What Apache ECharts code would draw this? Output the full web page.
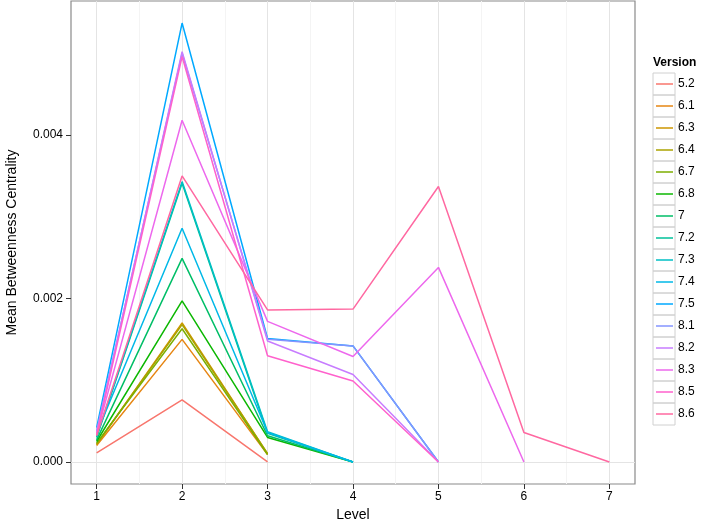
<!DOCTYPE html>
<html>
<head>
<meta charset="utf-8">
<script src="https://cdn.jsdelivr.net/npm/echarts@6/dist/echarts.min.js"></script>
<style>
  html, body { margin: 0; padding: 0; background: #fff; }
  #chart { width: 704px; height: 524px; }
</style>
</head>
<body>
<div id="chart"></div>
<script>
// levels on the x axis
const levels = [1, 2, 3, 4, 5, 6, 7];
const versions = ['5.2', '6.1', '6.3', '6.4', '6.7', '6.8', '7', '7.2', '7.3', '7.4', '7.5', '8.1', '8.2', '8.3', '8.5', '8.6'];
const colors = ['#F8766D', '#E68613', '#CD9600', '#ABA300', '#7CAE00', '#0CB702', '#00BE67', '#00C19A',
  '#00BFC4', '#00B8E7', '#00A9FF', '#8494FF', '#C77CFF', '#ED68ED', '#FF61CC', '#FF68A1'];

// mean betweenness centrality per version, one value per level
const v52 = [0.00011, 0.00076, 0];
const v61 = [0.00020, 0.00150, 0.00009];
const v63 = [0.00021, 0.00170, 0.00010];
const v64 = [0.00022, 0.00168, 0.00010];
const v67 = [0.00023, 0.00163, 0.00009];
const v68 = [0.00025, 0.00197, 0.00030, 0];
const v7 = [0.00027, 0.00249, 0.00032, 0];
const v72 = [0.00030, 0.00341, 0.00035, 0];
const v73 = [0.00031, 0.00343, 0.00037, 0];
const v74 = [0.00035, 0.00286, 0.00036, 0];
const v75 = [0.00042, 0.00537, 0.00151, 0.00142, 0];
const v81 = [0.00038, 0.00500, 0.00150, 0.00142, 0];
const v82 = [0.00036, 0.00502, 0.00148, 0.00107, 0];
const v83 = [0.00034, 0.00418, 0.00172, 0.00129, 0.00238, 0];
const v85 = [0.00033, 0.00496, 0.00130, 0.00099, 0];
const v86 = [0.00032, 0.00350, 0.00186, 0.00187, 0.00337, 0.00036, 0];
const values = [v52, v61, v63, v64, v67, v68, v7, v72, v73, v74, v75, v81, v82, v83, v85, v86];

const yTicks = [0, 0.002, 0.004];
const yMinor = [0.001, 0.003, 0.005];
const xMinor = [1.5, 2.5, 3.5, 4.5, 5.5, 6.5];

const chart = echarts.init(document.getElementById('chart'));

const font = 'Liberation Sans, Arial, sans-serif';

// grid lines drawn on the axes' own scales, kept under the data lines
const gridSeries = {
  type: 'line',
  data: [],
  silent: true,
  z: 0,
  markLine: {
    silent: true,
    z: 0,
    symbol: 'none',
    label: { show: false },
    animation: false,
    data: [
      ...xMinor.map(x => ({ xAxis: x, lineStyle: { color: '#f4f4f4', width: 1, type: 'solid' } })),
      ...yMinor.map(y => ({ yAxis: y, lineStyle: { color: '#f4f4f4', width: 1, type: 'solid' } })),
      ...levels.map(x => ({ xAxis: x, lineStyle: { color: '#e4e4e4', width: 1, type: 'solid' } })),
      ...yTicks.map(y => ({ yAxis: y, lineStyle: { color: '#e4e4e4', width: 1, type: 'solid' } }))
    ]
  }
};

const lineSeries = versions.map((v, i) => ({
  name: v,
  type: 'line',
  symbol: 'none',
  z: 2,
  animation: false,
  lineStyle: { color: colors[i], width: 1.5 },
  itemStyle: { color: colors[i] },
  data: values[i].map((val, j) => [levels[j], val])
}));

const legendTop = 73;
const keySize = 22;

chart.setOption({
  backgroundColor: '#fff',
  grid: {
    left: 71, right: 69, top: 1, bottom: 40,
    outerBoundsMode: 'none',
    show: true, borderColor: '#8a8a8a', borderWidth: 1.2, backgroundColor: '#fff', z: 0
  },
  xAxis: {
    type: 'value',
    min: 0.7, max: 7.3,
    name: 'Level',
    nameLocation: 'middle',
    nameGap: 23,
    nameTextStyle: { fontFamily: font, fontSize: 14, color: '#000' },
    axisLine: { show: false, onZero: false },
    splitLine: { show: false },
    axisTick: { show: true, customValues: levels, length: 5, lineStyle: { color: '#333' } },
    axisLabel: { customValues: levels, margin: 7, fontFamily: font, fontSize: 12, color: '#000' }
  },
  yAxis: {
    type: 'value',
    min: -0.00027, max: 0.00564,
    name: 'Mean Betweenness Centrality',
    nameLocation: 'middle',
    nameGap: 52,
    nameTextStyle: { fontFamily: font, fontSize: 14, color: '#000' },
    axisLine: { show: false, onZero: false },
    splitLine: { show: false },
    axisTick: { show: true, customValues: yTicks, length: 5, lineStyle: { color: '#333' } },
    axisLabel: { customValues: yTicks, margin: 8, fontFamily: font, fontSize: 12, color: '#000',
      formatter: v => v.toFixed(3) }
  },
  legend: {
    orient: 'vertical',
    left: 656,
    top: legendTop,
    itemGap: 0,
    itemWidth: 17,
    itemHeight: 1.5,
    icon: 'rect',
    padding: 0,
    data: versions,
    selectedMode: false,
    textStyle: { fontFamily: font, fontSize: 12, color: '#000', lineHeight: keySize }
  },
  graphic: [
    { type: 'text', left: 653, top: 57, style: { text: 'Version', font: 'bold 12px ' + font, fill: '#000' } },
    ...versions.map((v, i) => ({
      type: 'rect', z: 1,
      shape: { x: 653, y: legendTop + i * keySize, width: keySize, height: keySize },
      style: { fill: 'none', stroke: '#d0d0d0', lineWidth: 1 }
    }))
  ],
  series: [gridSeries, ...lineSeries]
});
</script>
</body>
</html>
